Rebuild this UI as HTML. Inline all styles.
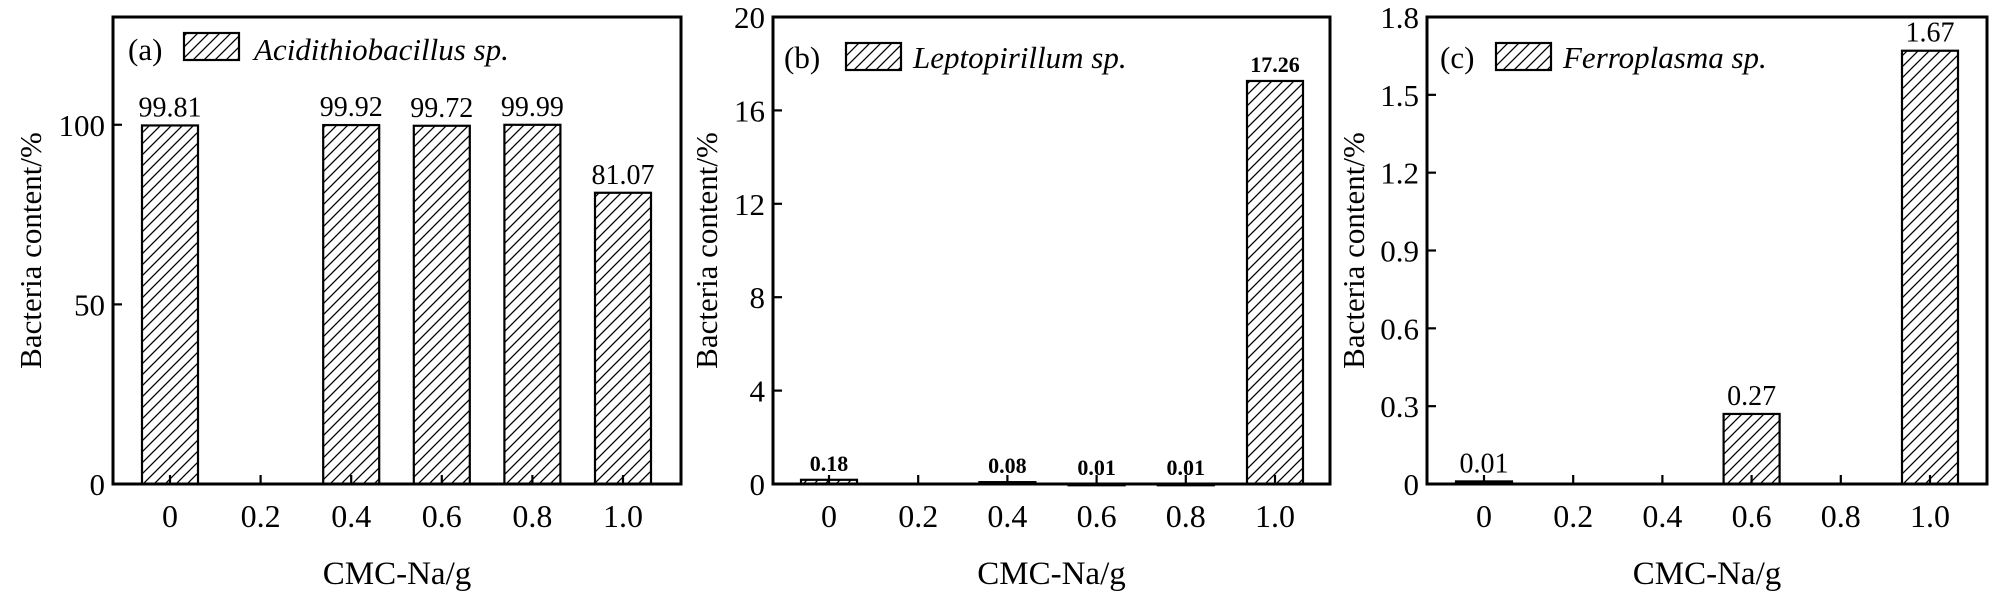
<!DOCTYPE html>
<html><head><meta charset="utf-8"><style>
html,body{margin:0;padding:0;background:#fff;}
svg{display:block;font-family:"Liberation Serif",serif;}
</style></head><body>
<svg id="chart" width="2000" height="596" viewBox="0 0 2000 596" xmlns="http://www.w3.org/2000/svg">
<defs>
<pattern id="hatch" patternUnits="userSpaceOnUse" width="11" height="11">
<path d="M-2,2 L2,-2 M0,11 L11,0 M9,13 L13,9" stroke="#000" stroke-width="1.3"/>
</pattern>
</defs>
</svg>
<script>
const categories = ["0","0.2","0.4","0.6","0.8","1.0"];
const valuesA = [99.81, null, 99.92, 99.72, 99.99, 81.07];
const valuesB = [0.18, null, 0.08, 0.01, 0.01, 17.26];
const valuesC = [0.01, null, null, 0.27, null, 1.67];
const ticksA = [0, 50, 100];
const ticksB = [0, 4, 8, 12, 16, 20];
const ticksC = [0, 0.3, 0.6, 0.9, 1.2, 1.5, 1.8];
const tickLabelsC = ["0","0.3","0.6","0.9","1.2","1.5","1.8"];
const labelsA = ["99.81", "", "99.92", "99.72", "99.99", "81.07"];
const labelsB = ["0.18", "", "0.08", "0.01", "0.01", "17.26"];
const labelsC = ["0.01", "", "", "0.27", "", "1.67"];

const NS = "http://www.w3.org/2000/svg";
const svg = document.getElementById("chart");
function mk(tag, attrs, parent, text){
  const e = document.createElementNS(NS, tag);
  for (const k in attrs) e.setAttribute(k, attrs[k]);
  if (text !== undefined) e.textContent = text;
  (parent||svg).appendChild(e);
  return e;
}
const panels = [
  {id:"a", tag:"(a)", species:"Acidithiobacillus sp.", values:valuesA, labels:labelsA, ticks:ticksA, tickLabels:ticksA.map(String), ymax:130,
   left:113, right:681, c0:170, step:90.6, titleX:31, tagX:128, swX:184, txtX:254, swY:33, labelSize:28, labelWeight:"normal", legendY:60},
  {id:"b", tag:"(b)", species:"Leptopirillum sp.", values:valuesB, labels:labelsB, ticks:ticksB, tickLabels:ticksB.map(String), ymax:20,
   left:773, right:1330, c0:829, step:89.2, titleX:707, tagX:784, swX:846, txtX:913, swY:43, labelSize:22, labelWeight:"bold", legendY:68},
  {id:"c", tag:"(c)", species:"Ferroplasma sp.", values:valuesC, labels:labelsC, ticks:ticksC, tickLabels:tickLabelsC, ymax:1.8,
   left:1427, right:1987, c0:1484, step:89.2, titleX:1354, tagX:1440, swX:1496, txtX:1563, swY:43, labelSize:28, labelWeight:"normal", legendY:68}
];
const TOP = 17, BOT = 484, BW = 56;
panels.forEach(p => {
  const g = mk("g", {});
  
  
  const y = v => BOT - (v / p.ymax) * (BOT - TOP);
  const x = i => p.c0 + i * p.step;
  // bars
  p.values.forEach((v, i) => {
    if (v === null) return;
    const r = mk("rect", {x:x(i)-BW/2, y:y(v), width:BW, height:Math.max(BOT-y(v),1.5), fill:"url(#hatch)", stroke:"#000", "stroke-width":2.2}, g);
    
    
    const t = mk("text", {x:x(i), y:y(v)-9, "text-anchor":"middle", "font-size":p.labelSize, "font-weight":p.labelWeight}, g, p.labels[i]);
    
    
  });
  // x ticks
  categories.forEach((c, i) => {
    mk("line", {x1:x(i), x2:x(i), y1:BOT, y2:BOT-9, stroke:"#000", "stroke-width":2.2}, g);
    const t = mk("text", {x:x(i), y:527, "text-anchor":"middle", "font-size":32}, g, c);
    
    
  });
  // y ticks
  p.ticks.forEach((v, i) => {
    mk("line", {x1:p.left, x2:p.left+9, y1:y(v), y2:y(v), stroke:"#000", "stroke-width":2.2}, g);
    const t = mk("text", {x:p.left-8, y:y(v)+11, "text-anchor":"end", "font-size":31}, g, p.tickLabels[i]);
    
    
  });
  // frame
  const fr = mk("rect", {x:p.left, y:TOP, width:p.right-p.left, height:BOT-TOP, fill:"none", stroke:"#000", "stroke-width":3}, g);
  
  
  // axis titles
  const xt = mk("text", {x:(p.left+p.right)/2, y:584, "text-anchor":"middle", "font-size":33}, g, "CMC-Na/g");
  
  
  const yt = mk("text", {x:0, y:0, "text-anchor":"middle", "font-size":31, transform:"translate(" + (p.titleX+10) + "," + ((TOP+BOT)/2) + ") rotate(-90)"}, g, "Bacteria content/%");
  
  
  // legend
  const tg = mk("text", {x:p.tagX, y:p.legendY, "font-size":31}, g, p.tag);
  
  
  const sw = mk("rect", {x:p.swX, y:p.swY, width:55, height:27, fill:"url(#hatch)", stroke:"#000", "stroke-width":2.2}, g);
  
  
  const lt = mk("text", {x:p.txtX, y:p.legendY, "font-size":31, "font-style":"italic"}, g, p.species);
  
  
});
</script>
</body></html>
